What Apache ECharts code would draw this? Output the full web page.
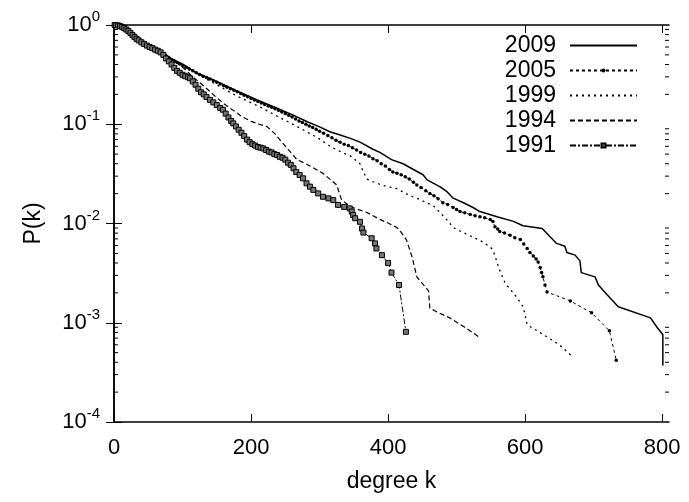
<!DOCTYPE html>
<html>
<head>
<meta charset="utf-8">
<script src="https://cdn.jsdelivr.net/npm/echarts@6/dist/echarts.min.js"></script>
<style>html,body{margin:0;padding:0;background:#fff}#c{width:689px;height:502px}</style>
</head>
<body>
<div id="c"></div>
<script>
// ---- data (k, P(k)) ----
const seriesNames = ['2009', '2005', '1999', '1994', '1991'];
const xTicks = [0, 200, 400, 600, 800];
const yTicks = [1e-4, 1e-3, 1e-2, 1e-1, 1];
const minorTicks = [2e-4,3e-4,4e-4,5e-4,6e-4,7e-4,8e-4,9e-4,
  2e-3,3e-3,4e-3,5e-3,6e-3,7e-3,8e-3,9e-3,
  2e-2,3e-2,4e-2,5e-2,6e-2,7e-2,8e-2,9e-2,
  0.2,0.3,0.4,0.5,0.6,0.7,0.8,0.9];

const d2009 = [[1,1.0],[10,0.98],[20,0.88],[31,0.74],[52,0.60],[67,0.54],[80,0.47],[101,0.40],[120,0.33],[150,0.27],[180,0.215],[209,0.176],[238,0.145],[260,0.125],[282,0.106],[300,0.094],[315,0.084],[330,0.078],[345,0.072],[359,0.066],[378,0.056],[388,0.052],[405,0.044],[422,0.040],[437,0.035],[451,0.031],[457,0.0275],[476,0.0234],[486,0.0209],[495,0.018],[510,0.0162],[524,0.0145],[534,0.0132],[559,0.0117],[583,0.0105],[597,0.0095],[625,0.0089],[636,0.0074],[646,0.0063],[658,0.0059],[661,0.0051],[673,0.0048],[680,0.0042],[682,0.0032],[702,0.0029],[707,0.0024],[720,0.0019],[736,0.00145],[783,0.00112],[793,0.00089],[801,0.00076],[801,0.00037]];

const d2005 = [[1,1.0],[3,0.995],[6,0.99],[9,0.975],[12,0.955],[15,0.93],[18,0.9],[21,0.87],[24,0.83],[27,0.79],[30,0.755],[33,0.725],[36,0.70],[40,0.67],[44,0.645],[48,0.62],[52,0.60],[56,0.585],[60,0.565],[64,0.55],[68,0.535],[72,0.51],[76,0.49],[80,0.47],[84,0.45],[88,0.435],[92,0.42],[96,0.405],[100,0.39],[105,0.375],[110,0.36],[115,0.345],[120,0.33],[125,0.318],[130,0.305],[135,0.295],[140,0.285],[145,0.275],[150,0.265],[155,0.255],[160,0.245],[165,0.236],[170,0.228],[175,0.22],[180,0.212],[185,0.204],[190,0.196],[195,0.189],[200,0.182],[205,0.176],[210,0.17],[215,0.164],[220,0.158],[225,0.153],[230,0.148],[235,0.143],[240,0.138],[245,0.133],[250,0.128],[255,0.123],[260,0.118],[265,0.113],[270,0.108],[275,0.104],[280,0.1],[285,0.096],[290,0.093],[295,0.089],[300,0.085],[306,0.081],[312,0.077],[318,0.073],[324,0.069],[330,0.066],[336,0.063],[342,0.061],[348,0.058],[354,0.055],[360,0.052],[366,0.05],[372,0.048],[378,0.045],[384,0.043],[390,0.04],[396,0.038],[402,0.035],[407,0.033],[413,0.032],[419,0.031],[425,0.0295],[431,0.028],[437,0.026],[442,0.0245],[448,0.023],[455,0.0214],[461,0.02],[467,0.019],[473,0.0178],[480,0.0162],[487,0.0155],[495,0.0145],[500,0.0138],[505,0.0132],[512,0.0128],[520,0.0123],[527,0.012],[534,0.0117],[541,0.0114],[549,0.011],[553,0.0105],[556,0.0093],[560,0.0088],[563,0.0083],[570,0.008],[578,0.0076],[585,0.0072],[593,0.0069],[598,0.0062],[603,0.0056],[607,0.0051],[612,0.0047],[616,0.0044],[619,0.0041],[622,0.0036],[624,0.0032],[626,0.0029],[629,0.0024],[632,0.00204],[666,0.00166],[697,0.00126],[723,0.00083],[733,0.00042]];

const d1999 = [[1,1.0],[10,0.975],[20,0.88],[30,0.755],[40,0.67],[52,0.60],[60,0.565],[68,0.535],[80,0.47],[90,0.43],[101,0.395],[111,0.36],[120,0.33],[130,0.30],[140,0.272],[150,0.25],[160,0.228],[172,0.205],[184,0.186],[199,0.166],[210,0.153],[220,0.141],[233,0.126],[247,0.112],[260,0.101],[272,0.091],[284,0.082],[296,0.074],[308,0.065],[320,0.0575],[333,0.052],[345,0.048],[352,0.044],[359,0.040],[364,0.033],[369,0.028],[380,0.026],[390,0.0245],[400,0.0235],[413,0.0224],[425,0.0202],[436,0.0186],[447,0.0174],[455,0.0163],[466,0.0151],[473,0.0135],[480,0.012],[488,0.0105],[495,0.0091],[505,0.0084],[515,0.0078],[525,0.0072],[534,0.0068],[541,0.0063],[549,0.0058],[553,0.0054],[557,0.0045],[562,0.0035],[571,0.0025],[580,0.0021],[588,0.0018],[597,0.00145],[600,0.0012],[603,0.00095],[615,0.00085],[632,0.00072],[650,0.0006],[667,0.00047]];

const d1994 = [[1,1.0],[10,0.975],[20,0.88],[30,0.755],[40,0.67],[52,0.60],[60,0.565],[68,0.535],[80,0.47],[95,0.40],[105,0.35],[115,0.30],[126,0.26],[138,0.22],[150,0.185],[162,0.158],[174,0.138],[186,0.12],[200,0.107],[212,0.1],[223,0.095],[235,0.08],[245,0.066],[252,0.058],[260,0.05],[267,0.044],[280,0.04],[292,0.036],[305,0.032],[315,0.028],[325,0.0245],[332,0.0174],[345,0.0148],[357,0.0138],[369,0.0129],[388,0.011],[400,0.0101],[413,0.0091],[420,0.008],[427,0.0068],[435,0.0046],[442,0.0029],[459,0.0021],[461,0.0014],[475,0.00125],[490,0.00112],[512,0.0009],[534,0.00071]];

const d1991 = [[1,1.0],[3,0.995],[6,0.99],[9,0.975],[12,0.955],[15,0.93],[18,0.9],[21,0.87],[24,0.83],[27,0.79],[30,0.755],[33,0.725],[36,0.70],[40,0.67],[44,0.645],[48,0.62],[52,0.60],[56,0.585],[60,0.565],[64,0.55],[68,0.53],[72,0.5],[76,0.46],[80,0.43],[84,0.4],[88,0.37],[92,0.345],[96,0.33],[100,0.315],[104,0.305],[108,0.298],[111,0.29],[115,0.27],[119,0.25],[123,0.228],[127,0.21],[131,0.2],[135,0.188],[140,0.176],[145,0.166],[150,0.156],[155,0.146],[159,0.14],[163,0.128],[167,0.117],[171,0.108],[174,0.102],[178,0.095],[182,0.088],[186,0.082],[190,0.076],[194,0.07],[198,0.066],[202,0.063],[206,0.061],[210,0.059],[214,0.058],[218,0.057],[222,0.055],[226,0.053],[230,0.052],[234,0.05],[238,0.049],[242,0.047],[246,0.046],[250,0.044],[254,0.041],[258,0.039],[262,0.036],[266,0.033],[271,0.0308],[276,0.0285],[281,0.0254],[286,0.0235],[291,0.0218],[298,0.0201],[305,0.0186],[313,0.0179],[320,0.0172],[327,0.0154],[336,0.0147],[344,0.0142],[347,0.0132],[349,0.0122],[352,0.0113],[359,0.0104],[362,0.0089],[364,0.0081],[376,0.0071],[381,0.0063],[383,0.0056],[391,0.0048],[400,0.004],[405,0.0032],[416,0.0024],[426,0.00081]];

const FONT = '"Liberation Sans", Arial, Helvetica, sans-serif';
const FS = 22;
const FL = 23;
const chart = echarts.init(document.getElementById('c'), null, {renderer: 'canvas'});

function supLabel(v) {
  const e = Math.round(Math.log10(v));
  return '{b|10}{s|' + e + '}';
}
const richY = {
  b: {fontSize: FS, fontFamily: FONT, color: '#000'},
  s: {fontSize: 15, fontFamily: FONT, color: '#000', padding: [0, 0, 16, 0]}
};

const AX = {color: '#000', width: 1.5};
const lineBase = {type: 'line', xAxisIndex: 0, yAxisIndex: 0, animation: false, silent: true, z: 3};
const hideSym = {opacity: 0};

chart.setOption({
  animation: false,
  textStyle: {fontFamily: FONT},
  grid: {left: 114, right: 20, top: 25, bottom: 80, containLabel: false},
  legend: {
    data: [
      {name: seriesNames[0], itemStyle: hideSym},
      {name: seriesNames[1]},
      {name: seriesNames[2], itemStyle: hideSym},
      {name: seriesNames[3], itemStyle: hideSym},
      {name: seriesNames[4]}
    ],
    orient: 'vertical',
    align: 'right',
    right: 46,
    top: 29,
    itemWidth: 67,
    itemHeight: 5,
    itemGap: 2,
    padding: 5,
    selectedMode: false,
    textStyle: {fontSize: FL, fontFamily: FONT, color: '#000', lineHeight: 20, padding: [0, 9, 0, 0]}
  },
  xAxis: [{
    type: 'value', min: 0, max: 810, interval: 200,
    name: 'degree k', nameLocation: 'middle', nameGap: 48,
    nameTextStyle: {fontSize: FL, fontFamily: FONT, color: '#000'},
    axisLine: {show: true, lineStyle: AX},
    axisTick: {show: true, inside: true, length: 8, lineStyle: {color: '#000', width: 1}, customValues: xTicks},
    axisLabel: {show: true, margin: 15, fontSize: FS, fontFamily: FONT, color: '#000', customValues: xTicks},
    splitLine: {show: false}
  }, {
    type: 'value', min: 0, max: 810, interval: 200, position: 'top',
    axisLine: {show: true, lineStyle: AX},
    axisTick: {show: true, inside: true, length: 8, lineStyle: {color: '#000', width: 1}, customValues: xTicks},
    axisLabel: {show: false},
    splitLine: {show: false}
  }],
  yAxis: [{
    type: 'log', min: 1e-4, max: 1, logBase: 10,
    name: 'P(k)', nameLocation: 'middle', nameGap: 69, nameRotate: 90,
    nameTextStyle: {fontSize: FL, fontFamily: FONT, color: '#000'},
    axisLine: {show: true, lineStyle: AX},
    axisTick: {show: true, inside: true, length: 8, lineStyle: {color: '#000', width: 1}, customValues: yTicks},
    axisLabel: {show: true, margin: 14, formatter: supLabel, rich: richY, customValues: yTicks},
    splitLine: {show: false}
  }, {
    type: 'log', min: 1e-4, max: 1, logBase: 10, position: 'right',
    axisLine: {show: true, lineStyle: AX},
    axisTick: {show: true, inside: true, length: 8, lineStyle: {color: '#000', width: 1}, customValues: yTicks},
    axisLabel: {show: false},
    splitLine: {show: false}
  }],
  series: [
    Object.assign({}, lineBase, {
      name: seriesNames[0], data: d2009, showSymbol: false, symbol: 'none',
      lineStyle: {color: '#000', width: 1.5, type: 'solid'}, itemStyle: {color: '#000'}
    }),
    Object.assign({}, lineBase, {
      name: seriesNames[1], data: d2005, symbol: 'circle', symbolSize: 3.5, showAllSymbol: true,
      lineStyle: {color: '#000', width: 1, type: [3, 3]}, itemStyle: {color: '#000'}
    }),
    Object.assign({}, lineBase, {
      name: seriesNames[2], data: d1999, showSymbol: false, symbol: 'none',
      lineStyle: {color: '#000', width: 1.3, type: [2, 4]}, itemStyle: {color: '#000'}
    }),
    Object.assign({}, lineBase, {
      name: seriesNames[3], data: d1994, showSymbol: false, symbol: 'none',
      lineStyle: {color: '#000', width: 1.2, type: [5, 3]}, itemStyle: {color: '#000'}
    }),
    Object.assign({}, lineBase, {
      name: seriesNames[4], data: d1991, symbol: 'rect', symbolSize: 5, showAllSymbol: true,
      lineStyle: {color: '#000', width: 1, type: [6, 2, 2, 2]},
      itemStyle: {color: '#777', borderColor: '#000', borderWidth: 1}
    }),
    {
      type: 'custom', name: 'minorTicks', xAxisIndex: 0, yAxisIndex: 0, silent: true, animation: false, z: 5,
      data: minorTicks.map(v => [0, v]),
      encode: {x: 0, y: 1},
      clip: false,
      renderItem: function (params, api) {
        const v = api.value(1);
        const pl = api.coord([0, v]);
        const pr = api.coord([810, v]);
        return {type: 'group', children: [
          {type: 'line', shape: {x1: pl[0], y1: pl[1], x2: pl[0] + 4, y2: pl[1]}, style: {stroke: '#000', lineWidth: 1}},
          {type: 'line', shape: {x1: pr[0] - 4, y1: pr[1], x2: pr[0], y2: pr[1]}, style: {stroke: '#000', lineWidth: 1}}
        ]};
      }
    }
  ]
});
</script>
</body>
</html>
